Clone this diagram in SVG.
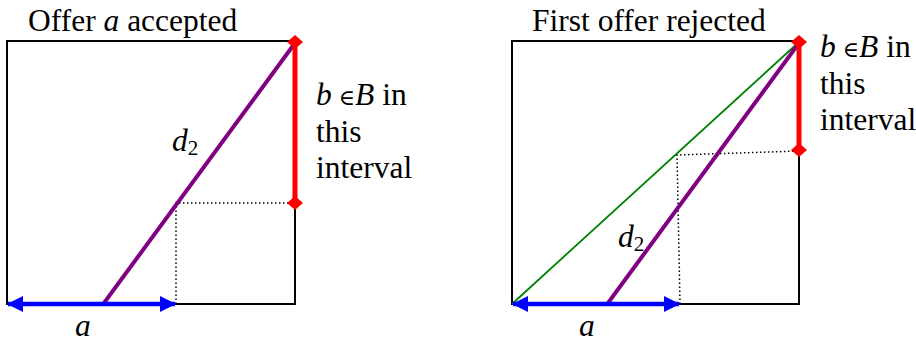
<svg xmlns="http://www.w3.org/2000/svg" width="916" height="345" viewBox="0 0 916 345">
<style>
text{font-size:31.5px;fill:#000}
.it{font-style:italic}
.sub{font-size:21px;font-style:normal}
.el{font-size:22px;font-style:normal}
.box{fill:none;stroke:#000;stroke-width:2}
.dot{fill:none;stroke:#000;stroke-width:1.5;stroke-dasharray:1.5 2.5}
.red{stroke:#ff0000;stroke-width:5;marker-start:url(#dia);marker-end:url(#dia)}
.pur{stroke:#800080;stroke-width:4}
.grn{stroke:#008000;stroke-width:1.8}
.blu{stroke:#0000ff;stroke-width:4.5;marker-start:url(#arr);marker-end:url(#arr)}
</style>
<defs>
<marker id="arr" markerUnits="userSpaceOnUse" markerWidth="16" markerHeight="16" refX="15" refY="8" orient="auto-start-reverse" viewBox="0 0 16 16"><path d="M0,0 L16,8 L0,16 z" fill="#0000ff"/></marker>
<marker id="dia" markerUnits="userSpaceOnUse" markerWidth="16" markerHeight="14" refX="8" refY="7" orient="0" viewBox="0 0 16 14"><path d="M0,7 L8,0 L16,7 L8,14 z" fill="#ff0000"/></marker>
</defs>
<g id="left-panel" font-family="'Liberation Serif', 'Times New Roman', 'DejaVu Serif', serif">
<text x="28" y="31">Offer <tspan class="it">a</tspan> accepted</text>
<polyline class="box" points="295,203 295,304 7,304 7,41 295,41"/>
<polyline class="dot" points="176,304 176,203 295,203"/>
<g id="left-connectors">
<line class="pur" x1="104" y1="303" x2="295" y2="43"/>
<line class="red" x1="295" y1="42" x2="295" y2="203"/>
<line class="blu" x1="8" y1="304" x2="175" y2="304"/>
</g>
<text class="it" x="172" y="151">d<tspan class="sub" dy="4">2</tspan></text>
<text x="316" y="105"><tspan class="it">b</tspan><tspan class="el" dx="7">∈</tspan><tspan class="it">B</tspan> in</text>
<text x="316" y="142">this</text>
<text x="316" y="178">interval</text>
<text class="it" x="75" y="336">a</text>
</g>
<g id="right-panel" font-family="'Liberation Serif', 'Times New Roman', 'DejaVu Serif', serif">
<text x="532" y="31">First offer rejected</text>
<polyline class="box" points="799,150 799,304 512,304 512,41 799,41"/>
<polyline class="dot" points="680,304 677,155 799,151"/>
<g id="right-connectors">
<line class="grn" x1="512" y1="304" x2="799" y2="42"/>
<line class="pur" x1="608" y1="303" x2="799" y2="43"/>
<line class="red" x1="799" y1="42" x2="799" y2="150"/>
<line class="blu" x1="513" y1="304" x2="679" y2="304"/>
</g>
<text class="it" x="618" y="247">d<tspan class="sub" dy="4">2</tspan></text>
<text x="820" y="57"><tspan class="it">b</tspan><tspan class="el" dx="7">∈</tspan><tspan class="it">B</tspan> in</text>
<text x="820" y="94">this</text>
<text x="820" y="130">interval</text>
<text class="it" x="579" y="336">a</text>
</g>
</svg>
